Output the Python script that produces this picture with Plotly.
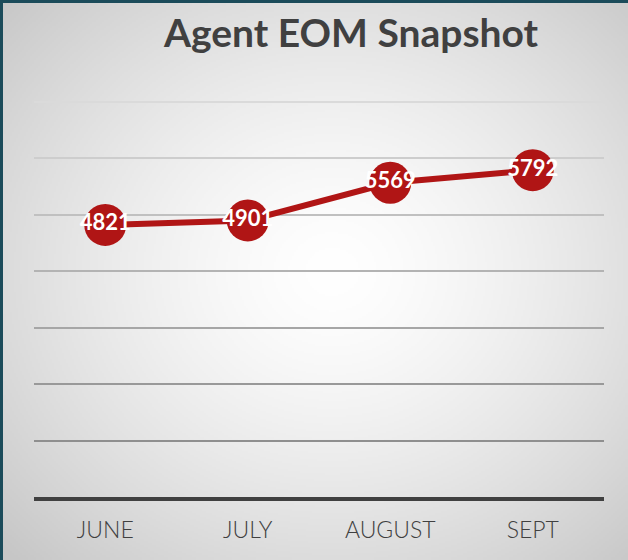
import base64, struct, zlib
import numpy as np
import plotly.graph_objects as go

months = ["JUNE", "JULY", "AUGUST", "SEPT"]
agents = [4821, 4901, 5569, 5792]
title_text = "Agent EOM Snapshot"
grid_values = [1000, 2000, 3000, 4000, 5000, 6000, 7000]
grid_colors = ["#8f8f8f", "#999999", "#a6a6a6", "#b3b3b3", "#c0c0c0", "#cdcdcd", "#dadada"]

W, H = 628, 560
L, R, T, B = 34, 24, 96, 63
Y_TOP = (H - B - T) / (H - B - 102) * 7000  # so that 7000 sits at y=102 px


def make_png(arr):
    h, w = arr.shape
    raw = b"".join(b"\x00" + arr[i].astype(np.uint8).tobytes() for i in range(h))
    def chunk(tag, data):
        c = struct.pack(">I", len(data)) + tag + data
        return c + struct.pack(">I", zlib.crc32(tag + data) & 0xFFFFFFFF)
    png = b"\x89PNG\r\n\x1a\n"
    png += chunk(b"IHDR", struct.pack(">IIBBBBB", w, h, 8, 0, 0, 0, 0))
    png += chunk(b"IDAT", zlib.compress(raw, 9))
    png += chunk(b"IEND", b"")
    return "data:image/png;base64," + base64.b64encode(png).decode()


iw, ih = 313, 279
yy, xx = np.mgrid[0:ih, 0:iw]
cx, cy = 0.525 * iw, 0.48 * ih
r = np.sqrt(((xx - cx) / (iw / 2)) ** 2 + ((yy - cy) / (ih / 2)) ** 2)
val = np.clip(255 - 33 * r ** 1.45, 198, 255)
bg_src = make_png(val)

pw, ph = W - L - R, H - T - B

fig = go.Figure()

axis_common = dict(range=[0, Y_TOP], showgrid=True, gridwidth=1.5,
                   showticklabels=False, zeroline=False, ticks="", tickmode="array")
layout_axes = {}
for i, (gv, gc) in enumerate(zip(grid_values, grid_colors)):
    name = "yaxis" if i == 0 else f"yaxis{i + 1}"
    ax = dict(axis_common, tickvals=[gv], gridcolor=gc)
    if i > 0:
        ax["overlaying"] = "y"
        # empty helper trace so the overlaid grid axis is rendered
        fig.add_trace(go.Scatter(x=[months[0]], y=[None], yaxis=f"y{i + 1}",
                                 mode="lines", showlegend=False, hoverinfo="skip"))
    layout_axes[name] = ax

fig.add_trace(go.Scatter(
    x=months, y=agents, mode="lines+markers+text",
    text=[str(v) for v in agents], textposition="middle center",
    textfont=dict(family="Lato", size=22, color="white", weight="bold"),
    line=dict(color="#B01515", width=6),
    marker=dict(size=42, color="#B01515"),
    hoverinfo="skip", showlegend=False, cliponaxis=False,
))

fig.update_layout(
    width=W, height=H,
    margin=dict(l=L, r=R, t=T, b=B),
    paper_bgcolor="#1B4B5A",
    plot_bgcolor="rgba(0,0,0,0)",
    title=dict(text=title_text, x=351 / W, xanchor="center", xref="container",
               y=1 - 33 / H, yanchor="middle", yref="container",
               font=dict(family="Lato", size=39, color="#404040", weight="bold")),
    images=[dict(source=bg_src, xref="paper", yref="paper",
                 x=(3 - L) / pw, y=(H - B - 3) / ph,
                 sizex=(W - 3) / pw, sizey=(H - 3) / ph,
                 sizing="stretch", layer="below", xanchor="left", yanchor="top")],
    xaxis=dict(type="category", range=[-0.5, 3.5], showgrid=False,
               showline=True, linecolor="#404040", linewidth=4,
               ticks="", ticklabelstandoff=9,
               tickfont=dict(family="Lato", size=23, color="#404040", weight=300)),
    **layout_axes,
)

fig.write_html("out.html", config={"displayModeBar": False},
               post_script="document.body.style.margin='0';")
